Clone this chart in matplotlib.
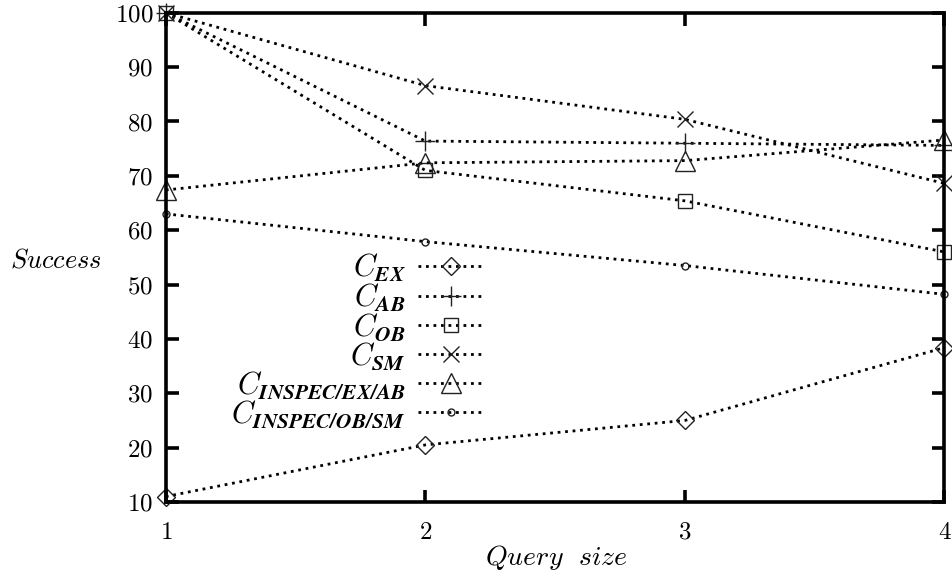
import matplotlib
matplotlib.use("Agg")
import matplotlib.pyplot as plt

plt.rcParams['mathtext.fontset'] = 'cm'
plt.rcParams['axes.formatter.use_mathtext'] = True

query_size = [1, 2, 3, 4]
# success per method
c_ex = [11.0, 20.5, 25.0, 38.4]
c_ab = [100.0, 76.4, 76.0, 75.6]
c_ob = [100.0, 71.0, 65.4, 56.0]
c_sm = [100.0, 86.6, 80.4, 68.6]
c_insp_ex_ab = [67.4, 72.4, 72.8, 76.6]
c_insp_ob_sm = [63.0, 57.9, 53.5, 48.2]

labels = [r'$C_{\mathbfit{EX}}$', r'$C_{\mathbfit{AB}}$', r'$C_{\mathbfit{OB}}$', r'$C_{\mathbfit{SM}}$',
          r'$C_{\mathbfit{INSPEC/EX/AB}}$', r'$C_{\mathbfit{INSPEC/OB/SM}}$']
markers = ['D', '+', 's', 'x', '^', 'o']
sizes = [9, 14, 10, 12, 15, 5]

fig = plt.figure(figsize=(9.53, 5.81), dpi=100)
ax = fig.add_axes([0.174, 0.136, 0.817, 0.842])

for ys, lab, m, ms in zip([c_ex, c_ab, c_ob, c_sm, c_insp_ex_ab, c_insp_ob_sm], labels, markers, sizes):
    ax.plot(query_size, ys, color='black', linestyle=(0, (1, 1.7)), linewidth=2.0,
            dash_capstyle='butt', marker=m, markersize=ms, markerfacecolor='none',
            markeredgecolor='#222222', markeredgewidth=1.0, label=lab, clip_on=False)

ax.set_xlim(1, 4)
ax.set_ylim(10, 100)
ax.set_xticks([1, 2, 3, 4])
ax.set_yticks(range(10, 101, 10))
for s in ax.spines.values():
    s.set_linewidth(2.6)
ax.tick_params(direction='in', length=9, width=2.6, top=True, right=True,
               labelsize=18, pad=9)
ax.tick_params(axis='x', pad=14)
for t in ax.get_xticklabels() + ax.get_yticklabels():
    t.set_fontfamily('cmr10')

fig.text(556 / 953, 1 - 558 / 581, r'$Query\ \ size$', fontsize=20, ha='center', va='center')
fig.text(56 / 953, 1 - 260 / 581, r'$Success$', fontsize=19, ha='center', va='center')

ax.legend(loc='center', bbox_to_anchor=(0.247, 0.329), frameon=False, markerfirst=False,
          fontsize=22, handlelength=2.2, numpoints=1, labelspacing=-0.08,
          handletextpad=0.4, borderpad=0)

fig.savefig('out.png', dpi=100)
